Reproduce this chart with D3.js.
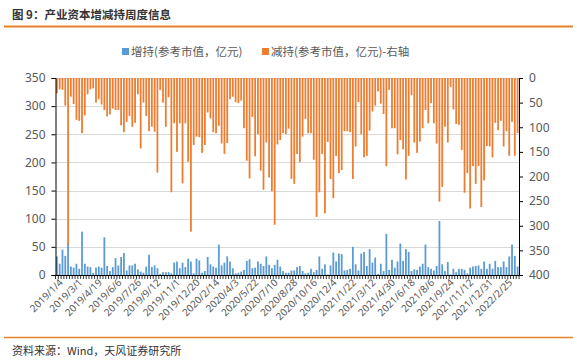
<!DOCTYPE html>
<html>
<head>
<meta charset="utf-8">
<script src="https://cdn.jsdelivr.net/npm/d3@7"></script>
<style>
  body { margin: 0; background: #fff; }
  svg { display: block; font-family: "Noto Sans CJK SC", "Noto Sans", sans-serif; }
</style>
</head>
<body>
<div id="chart"></div>
<script>
// weekly labels shown on the x axis (every 7th week)
const tickLabels = ["2019/1/4", "2019/3/1", "2019/4/19", "2019/6/6", "2019/7/26", "2019/9/12",
  "2019/11/1", "2019/12/20", "2020/2/14", "2020/4/3", "2020/5/22", "2020/7/10", "2020/8/28",
  "2020/10/16", "2020/12/4", "2021/1/22", "2021/3/12", "2021/4/30", "2021/6/18", "2021/8/6",
  "2021/9/24", "2021/11/12", "2021/12/31", "2022/2/25"];

// 增持 (left axis, 亿元)
const increase = [
  33, 20, 45, 34, 57, 15, 13, 20, 11, 77,
  20, 15, 14, 4, 13, 15, 13, 67, 16, 7,
  14, 30, 17, 32, 39, 8, 17, 17, 20, 10,
  6, 4, 15, 36, 14, 17, 12, 2, 5, 5,
  5, 3, 22, 24, 12, 22, 14, 29, 24, 3,
  29, 26, 4, 7, 32, 19, 15, 13, 54, 17,
  22, 33, 24, 12, 3, 4, 6, 9, 25, 28,
  12, 13, 24, 20, 16, 33, 18, 12, 18, 27,
  15, 7, 4, 4, 8, 8, 14, 16, 7, 3,
  4, 11, 5, 9, 33, 11, 19, 1, 17, 40,
  24, 38, 37, 8, 9, 11, 50, 19, 8, 38,
  41, 16, 46, 22, 31, 2, 20, 7, 73, 9,
  27, 13, 24, 56, 25, 46, 41, 7, 10, 9,
  15, 20, 54, 14, 11, 8, 16, 96, 19, 7,
  23, 1, 11, 5, 11, 11, 9, 3, 13, 15,
  16, 17, 11, 24, 11, 20, 11, 25, 14, 14,
  24, 14, 33, 54, 34, 15
];

// 减持 (right axis, reversed, 亿元)
const decrease = [
  31, 23, 24, 56, 339, 38, 53, 85, 87, 112,
  76, 33, 23, 21, 50, 43, 54, 65, 78, 74,
  62, 65, 65, 96, 110, 89, 77, 99, 91, 33,
  143, 50, 77, 108, 99, 109, 192, 24, 50, 99,
  39, 232, 92, 150, 92, 214, 92, 170, 312, 136,
  119, 120, 152, 136, 70, 82, 110, 112, 97, 133,
  154, 132, 43, 38, 49, 51, 46, 102, 168, 204,
  79, 159, 114, 188, 227, 131, 202, 230, 298, 135,
  126, 112, 114, 103, 205, 215, 154, 171, 119, 83,
  112, 112, 166, 282, 232, 154, 275, 130, 205, 244,
  158, 193, 187, 108, 108, 110, 205, 139, 49, 114,
  161, 158, 107, 68, 56, 27, 52, 73, 179, 24,
  102, 102, 155, 126, 145, 206, 158, 35, 131, 152,
  129, 102, 65, 92, 51, 92, 133, 251, 221, 99,
  131, 18, 64, 93, 95, 146, 233, 193, 265, 179,
  215, 179, 262, 208, 138, 139, 161, 91, 106, 87,
  139, 108, 158, 89, 158, 112
];

const leftTicks = [0, 50, 100, 150, 200, 250, 300, 350];
const rightTicks = [0, 50, 100, 150, 200, 250, 300, 350, 400];

const width = 577, height = 362;
const plot = { left: 55.5, right: 519, top: 78, bottom: 275 };
const blue = "#5B9BD5", orange = "#ED7D31", lineOrange = "#E8822A";
const textGray = "#595959";

const weeks = d3.range(increase.length);

const svg = d3.select("#chart").append("svg")
  .attr("width", width)
  .attr("height", height);

// title + rule lines
svg.append("text")
  .attr("x", 12).attr("y", 19)
  .attr("font-size", 11.5).attr("font-weight", "bold").attr("fill", "#333")
  .text("图 9：产业资本增减持周度信息");
svg.append("line")
  .attr("x1", 4).attr("x2", 573).attr("y1", 26.5).attr("y2", 26.5)
  .attr("stroke", lineOrange).attr("stroke-width", 2);
svg.append("line")
  .attr("x1", 4).attr("x2", 573).attr("y1", 337.5).attr("y2", 337.5)
  .attr("stroke", lineOrange).attr("stroke-width", 1.5);
svg.append("text")
  .attr("x", 12).attr("y", 355)
  .attr("font-size", 11).attr("fill", "#333")
  .text("资料来源：Wind，天风证券研究所");

// scales
const x = d3.scaleBand().domain(weeks).range([plot.left, plot.right]).paddingInner(0.36).paddingOuter(0.18);
const xEdge = d3.scaleBand().domain(weeks).range([plot.left, plot.right]);
const yL = d3.scaleLinear().domain([0, 350]).range([plot.bottom, plot.top]);
const yR = d3.scaleLinear().domain([0, 400]).range([plot.top, plot.bottom]);

// gridlines
svg.append("g")
  .selectAll("line")
  .data(leftTicks.slice(1))
  .enter()
  .append("line")
  .attr("x1", plot.left).attr("x2", plot.right)
  .attr("y1", d => Math.round(yL(d)) + 0.5).attr("y2", d => Math.round(yL(d)) + 0.5)
  .attr("stroke", "#D9D9D9").attr("stroke-width", 1);

// bars
svg.append("g")
  .selectAll("rect")
  .data(weeks)
  .enter()
  .append("rect")
  .attr("x", i => x(i))
  .attr("width", x.bandwidth())
  .attr("y", i => yL(increase[i]))
  .attr("height", i => yL(0) - yL(increase[i]))
  .attr("fill", blue);

svg.append("g")
  .selectAll("rect")
  .data(weeks)
  .enter()
  .append("rect")
  .attr("x", i => x(i))
  .attr("width", x.bandwidth())
  .attr("y", yR(0))
  .attr("height", i => yR(decrease[i]) - yR(0))
  .attr("fill", orange);

// axes
const leftAxis = svg.append("g")
  .attr("transform", `translate(${plot.left},0)`)
  .call(d3.axisLeft(yL).tickValues(leftTicks).tickSize(4).tickPadding(6));
const rightAxis = svg.append("g")
  .attr("transform", `translate(${plot.right},0)`)
  .call(d3.axisRight(yR).tickValues(rightTicks).tickSize(4).tickPadding(6));
[leftAxis, rightAxis].forEach(g => {
  g.select(".domain").attr("stroke", "#000");
  g.selectAll(".tick line").attr("stroke", "#000");
  g.selectAll("text").attr("font-size", 12).attr("fill", textGray)
    .attr("font-family", "'Noto Sans', sans-serif");
});

// bottom axis: line + a tick at every week boundary
svg.append("line")
  .attr("x1", plot.left).attr("x2", plot.right)
  .attr("y1", plot.bottom + 0.5).attr("y2", plot.bottom + 0.5)
  .attr("stroke", "#000");
svg.append("g")
  .selectAll("line")
  .data(weeks.concat([weeks.length]))
  .enter()
  .append("line")
  .attr("x1", i => i < weeks.length ? xEdge(i) : plot.right)
  .attr("x2", i => i < weeks.length ? xEdge(i) : plot.right)
  .attr("y1", plot.bottom).attr("y2", plot.bottom + 4)
  .attr("stroke", "#000").attr("stroke-width", 0.8);

const bottomAxis = svg.append("g")
  .attr("transform", `translate(0,${plot.bottom})`)
  .call(d3.axisBottom(x)
    .tickValues(weeks.filter(i => i % 7 === 0))
    .tickFormat(i => tickLabels[i / 7])
    .tickSize(0));
bottomAxis.select(".domain").remove();
bottomAxis.selectAll("text")
  .attr("font-size", 10).attr("fill", textGray)
  .attr("font-family", "'Noto Sans', sans-serif")
  .attr("text-anchor", "end")
  .attr("dx", -1).attr("dy", 7.5)
  .attr("transform", "rotate(-45)");

// legend
const legend = [
  { label: "增持(参考市值，亿元)", color: blue, x: 122 },
  { label: "减持(参考市值，亿元)-右轴", color: orange, x: 262 }
];
const lg = svg.append("g").selectAll("g").data(legend).enter().append("g")
  .attr("transform", d => `translate(${d.x},48)`);
lg.append("rect").attr("width", 7).attr("height", 7).attr("fill", d => d.color);
lg.append("text").attr("x", 9).attr("y", 7.5)
  .attr("font-size", 11.5).attr("fill", textGray)
  .text(d => d.label);
</script>
</body>
</html>
